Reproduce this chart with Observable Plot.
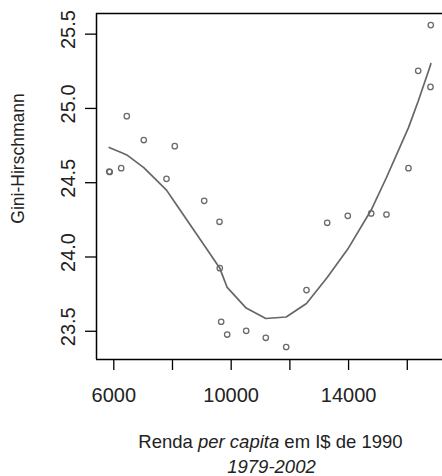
<!DOCTYPE html>
<html>
<head>
<meta charset="utf-8">
<script src="https://cdn.jsdelivr.net/npm/d3@7"></script>
<script src="https://cdn.jsdelivr.net/npm/@observablehq/plot@0.6"></script>
<style>
  html, body { margin: 0; padding: 0; background: #fff; }
</style>
</head>
<body>
<div id="chart"></div>
<script>
// Observed points: renda per capita (I$ 1990) vs Gini-Hirschmann
const rendaPts = [5845, 5862, 6252, 6443, 7022, 7796, 8078, 9080, 9602, 9612, 9659, 9864,
                  10511, 11179, 11874, 12566, 13271, 13973, 14770, 15291, 16041, 16371, 16790, 16801];
const giniPts  = [24.575, 24.572, 24.598, 24.948, 24.787, 24.526, 24.746, 24.378, 24.237, 23.925, 23.564, 23.478,
                  23.503, 23.456, 23.394, 23.777, 24.230, 24.277, 24.293, 24.286, 24.598, 25.253, 25.145, 25.561];

// Smoothed (fitted) curve at the same incomes
const rendaFit = [5845, 5862, 6252, 6443, 7022, 7796, 8078, 9080, 9602, 9612, 9659, 9864,
                  10511, 11179, 11874, 12566, 13271, 13973, 14770, 15291, 16041, 16371, 16790, 16801];
const giniFit  = [24.737, 24.735, 24.703, 24.687, 24.602, 24.450, 24.368, 24.079, 23.928, 23.925, 23.900, 23.795,
                  23.656, 23.586, 23.596, 23.687, 23.862, 24.053, 24.316, 24.535, 24.871, 25.048, 25.290, 25.302];

const xTicks = [6000, 8000, 10000, 12000, 14000, 16000];
const xTickLabels = [6000, 10000, 14000];
const yTicks = [23.5, 24.0, 24.5, 25.0, 25.5];
const xDomain = [5411, 17200];
const yDomain = [23.31, 25.639];

const yTitle = "Gini-Hirschmann";
const xTitleParts = ["Renda ", "per capita", " em I$ de 1990"];
const subTitle = "1979-2002";

const pts = rendaPts.map((x, i) => ({x, y: giniPts[i]}));
const fit = rendaFit.map((x, i) => ({x, y: giniFit[i]}));

const FONT = "'Liberation Sans', Arial, Helvetica, sans-serif";
const TEXT = "#222";

const chart = Plot.plot({
  width: 442,
  height: 476,
  marginLeft: 96,
  marginRight: 0,
  marginTop: 13,
  marginBottom: 117,
  style: {fontFamily: FONT, background: "#fff", color: TEXT, overflow: "visible"},
  x: {domain: xDomain, label: null},
  y: {domain: yDomain, label: null},
  marks: [
    Plot.line(fit, {x: "x", y: "y", stroke: "#666", strokeWidth: 1.7}),
    Plot.dot(pts, {x: "x", y: "y", r: 2.7, stroke: "#6a6a6a", strokeWidth: 1.3, fill: "none"}),
    Plot.ruleX([xDomain[0]], {stroke: "#000", strokeWidth: 1.5}),
    Plot.ruleY([yDomain[0], yDomain[1]], {stroke: "#000", strokeWidth: 1.5}),
    Plot.axisX({
      ticks: xTicks, tickSize: 11, tickPadding: 17, stroke: "#000", strokeWidth: 1.3,
      tickFormat: d => xTickLabels.includes(d) ? String(d) : "",
      fontSize: 20, fill: TEXT, label: null
    }),
    Plot.axisY({ticks: yTicks, tickSize: 11, stroke: "#000", strokeWidth: 1.3, fill: "none", label: null}),
    Plot.text(yTicks, {
      x: () => xDomain[0], y: d => d, text: d => d.toFixed(1),
      rotate: -90, textAnchor: "middle", lineAnchor: "bottom",
      dx: -22, dy: -4.5, fontSize: 20, fill: TEXT, ariaLabel: "yticklabels"
    }),
    Plot.text([yTitle], {
      frameAnchor: "left", text: d => d, rotate: -90, textAnchor: "middle", lineAnchor: "bottom",
      dx: -72.7, dy: -28, fontSize: 17.5, fill: TEXT, ariaLabel: "ytitle"
    })
  ]
});

document.getElementById("chart").appendChild(chart);

const svg = d3.select(chart);
svg.selectAll('g[aria-label="yticklabels"] text')
  .attr("textLength", 31).attr("lengthAdjust", "spacingAndGlyphs");
svg.selectAll('g[aria-label="ytitle"] text')
  .attr("textLength", 137).attr("lengthAdjust", "spacingAndGlyphs");

const t = svg.append("text")
  .attr("x", 270.5).attr("y", 448)
  .attr("text-anchor", "middle")
  .attr("font-size", 18.5)
  .attr("font-family", FONT)
  .attr("fill", TEXT);
t.append("tspan").text(xTitleParts[0]);
t.append("tspan").attr("font-style", "italic").text(xTitleParts[1]);
t.append("tspan").text(xTitleParts[2]);

svg.append("text")
  .attr("x", 271.5).attr("y", 472.5)
  .attr("text-anchor", "middle")
  .attr("font-size", 18.5)
  .attr("font-style", "italic")
  .attr("font-family", FONT)
  .attr("fill", TEXT)
  .text(subTitle);
</script>
</body>
</html>
